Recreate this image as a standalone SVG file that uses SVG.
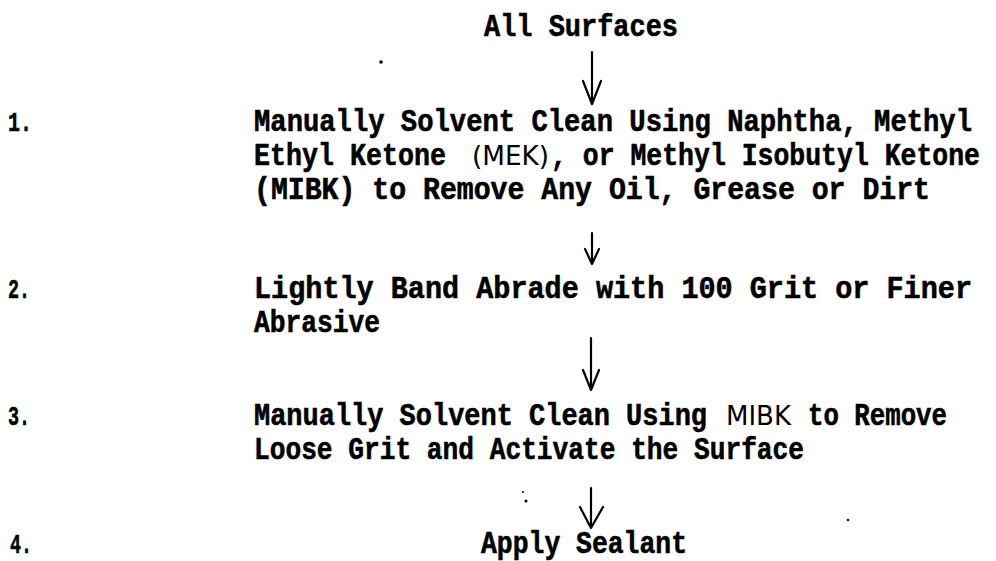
<svg xmlns="http://www.w3.org/2000/svg" width="996" height="561" viewBox="0 0 996 561">
<style>
.t{font-family:"Liberation Mono","DejaVu Sans Mono",monospace;font-weight:bold;font-size:27px;fill:#000;stroke:#000;stroke-width:0.5}
.n{font-family:"Liberation Mono","DejaVu Sans Mono",monospace;font-weight:bold;font-size:25px;fill:#000;stroke:#000;stroke-width:0.5}
.thin{font-family:"DejaVu Sans","Liberation Sans",sans-serif;font-weight:normal;font-size:23px;fill:#000}
.a{fill:none;stroke:#000;stroke-width:2.2;stroke-linecap:round;stroke-linejoin:round}
</style>
<rect width="996" height="561" fill="#fff"/>
<g id="start"><text class="t" transform="translate(484,36) scale(1,1.14)" textLength="194" lengthAdjust="spacingAndGlyphs">All Surfaces</text></g>
<g id="step1">
<text class="n" transform="translate(8,131) scale(1,1.14)" textLength="24" lengthAdjust="spacingAndGlyphs">1.</text>
<text class="t" transform="translate(254,131) scale(1,1.14)" textLength="718" lengthAdjust="spacingAndGlyphs">Manually Solvent Clean Using Naphtha, Methyl</text>
<text class="t" transform="translate(254,165) scale(1,1.14)" textLength="192" lengthAdjust="spacingAndGlyphs">Ethyl Ketone</text>
<text class="thin" transform="translate(472,165) scale(1,1.14)" textLength="77" lengthAdjust="spacingAndGlyphs">(MEK)</text>
<text class="t" transform="translate(551,165) scale(1,1.14)" textLength="429" lengthAdjust="spacingAndGlyphs">, or Methyl Isobutyl Ketone</text>
<text class="t" transform="translate(254,199) scale(1,1.14)" textLength="676" lengthAdjust="spacingAndGlyphs">(MIBK) to Remove Any Oil, Grease or Dirt</text>
</g>
<g id="step2">
<text class="n" transform="translate(8,298) scale(1,1.14)" textLength="22" lengthAdjust="spacingAndGlyphs">2.</text>
<text class="t" transform="translate(254,298) scale(1,1.14)" textLength="718" lengthAdjust="spacingAndGlyphs">Lightly Band Abrade with 100 Grit or Finer</text>
<text class="t" transform="translate(254,332) scale(1,1.14)" textLength="126" lengthAdjust="spacingAndGlyphs">Abrasive</text>
</g>
<g id="step3">
<text class="n" transform="translate(8,425) scale(1,1.14)" textLength="22" lengthAdjust="spacingAndGlyphs">3.</text>
<text class="t" transform="translate(254,425) scale(1,1.14)" textLength="453" lengthAdjust="spacingAndGlyphs">Manually Solvent Clean Using</text>
<text class="thin" transform="translate(726,425) scale(1,1.14)" textLength="65" lengthAdjust="spacingAndGlyphs">MIBK</text>
<text class="t" transform="translate(808,425) scale(1,1.14)" textLength="139" lengthAdjust="spacingAndGlyphs">to Remove</text>
<text class="t" transform="translate(254,459) scale(1,1.14)" textLength="550" lengthAdjust="spacingAndGlyphs">Loose Grit and Activate the Surface</text>
</g>
<g id="step4">
<text class="n" transform="translate(10,553) scale(1,1.14)" textLength="22" lengthAdjust="spacingAndGlyphs">4.</text>
<text class="t" transform="translate(481,553) scale(1,1.14)" textLength="206" lengthAdjust="spacingAndGlyphs">Apply Sealant</text>
</g>
<g id="connectors">
<path class="a" d="M592 52 V104 M583 81 L592 104 L601 81"/>
<path class="a" d="M592 233 V264 M585 249 L592 264 L599 249"/>
<path class="a" d="M591 338 V390 M583 370 L591 390 L599 370"/>
<path class="a" d="M591 488 V528 M580 507 L591 528 L603 507"/>
</g>
<g id="specks" fill="#000">
<circle cx="381" cy="62" r="1.8"/>
<circle cx="523" cy="492" r="1"/>
<circle cx="526" cy="501" r="1.5"/>
<circle cx="848" cy="520" r="1.2"/>
</g>
</svg>
